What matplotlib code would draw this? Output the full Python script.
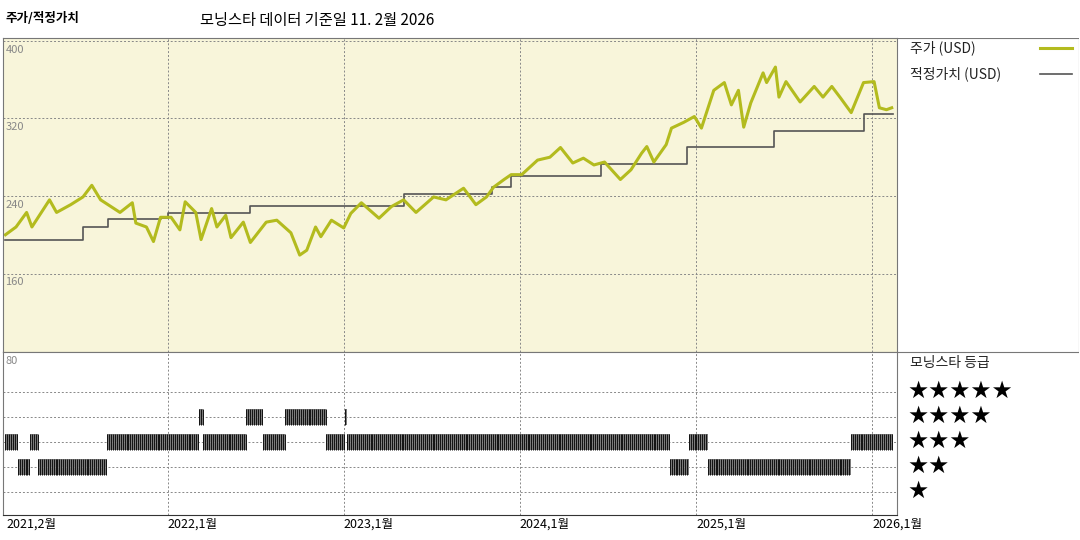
import numpy as np
import matplotlib
matplotlib.use("Agg")
import matplotlib.pyplot as plt

plt.rcParams['font.family'] = ['Noto Sans CJK KR', 'DejaVu Sans']

# price (USD), dates as decimal years
price_t = [2021.08, 2021.14, 2021.20, 2021.23, 2021.33, 2021.37, 2021.45, 2021.52, 2021.57, 2021.62,
           2021.73, 2021.80, 2021.82, 2021.88, 2021.92, 2021.96, 2022.02, 2022.07, 2022.10, 2022.16,
           2022.19, 2022.25, 2022.28, 2022.33, 2022.36, 2022.43, 2022.47, 2022.56, 2022.62, 2022.70,
           2022.75, 2022.79, 2022.84, 2022.87, 2022.93, 2023.00, 2023.04, 2023.10, 2023.20, 2023.27,
           2023.34, 2023.41, 2023.51, 2023.58, 2023.68, 2023.75, 2023.81, 2023.85, 2023.91, 2023.95,
           2024.01, 2024.04, 2024.10, 2024.17, 2024.23, 2024.30, 2024.36, 2024.42, 2024.48, 2024.52,
           2024.57, 2024.63, 2024.69, 2024.72, 2024.76, 2024.83, 2024.86, 2024.93, 2024.99, 2025.03,
           2025.10, 2025.16, 2025.20, 2025.24, 2025.27, 2025.31, 2025.38, 2025.40, 2025.45, 2025.47,
           2025.51, 2025.59, 2025.67, 2025.72, 2025.77, 2025.82, 2025.88, 2025.95, 2026.01, 2026.04,
           2026.08, 2026.11]
price_v = [200, 208, 223, 208, 236, 223, 231, 239, 251, 236,
           223, 233, 212, 208, 193, 218, 218, 205, 234, 223,
           195, 227, 208, 220, 197, 213, 192, 213, 215, 202,
           179, 184, 208, 198, 215, 207, 222, 233, 217, 229,
           236, 223, 239, 236, 248, 231, 239, 249, 257, 262,
           262, 267, 277, 280, 290, 274, 279, 272, 275, 267,
           257, 267, 284, 291, 275, 293, 310, 316, 322, 310,
           349, 357, 334, 349, 311, 336, 367, 357, 373, 342,
           358, 337, 353, 342, 353, 341, 326, 357, 358, 331,
           329, 331]

# fair value steps
fair_t = [2021.08, 2021.52, 2021.66, 2021.96, 2022.00, 2022.47, 2023.34, 2023.84, 2023.95,
          2024.46, 2024.95, 2025.44, 2025.95, 2026.12]
fair_v = [195, 208, 216, 217, 222, 230, 242, 249, 261, 273, 291, 307, 325, 325]

# star rating periods
rating_start = [2021.08, 2021.15, 2021.22, 2021.265, 2021.657, 2022.18, 2022.203, 2022.447, 2022.543,
                2022.668, 2022.901, 2023.009, 2023.02, 2024.85, 2024.958, 2025.066, 2025.878]
rating_end = [2021.15, 2021.22, 2021.265, 2021.657, 2022.18, 2022.203, 2022.447, 2022.543, 2022.668,
              2022.901, 2023.009, 2023.02, 2024.85, 2024.958, 2025.066, 2025.878, 2026.117]
rating_level = [3, 2, 3, 2, 3, 4, 3, 4, 3, 4, 3, 4, 3, 2, 3, 2, 3]

x_ticks = [2021.083, 2022.0, 2023.0, 2024.0, 2025.0, 2026.0]
x_labels = ['2021,2월', '2022,1월', '2023,1월', '2024,1월', '2025,1월', '2026,1월']
y_ticks = [160, 240, 320, 400]

W, H = 1080, 540
fig = plt.figure(figsize=(10.8, 5.4), dpi=100)


def box(x0, y0, x1, y1):
    return [x0 / W, 1 - y1 / H, (x1 - x0) / W, (y1 - y0) / H]


xlim = (2021.066, 2026.14)
grid_kw = dict(color='#888888', linestyle=(0, (2, 2)), linewidth=0.7)

ax = fig.add_axes(box(3, 38, 897, 352))
ax.set_facecolor('#f8f5da')
ax.set_xlim(*xlim)
ax.set_ylim(79, 403)
for v in y_ticks:
    ax.axhline(v, **grid_kw)
    ax.text(2021.08, v - 4, str(v), color='#888888', fontsize=8, va='top', ha='left')
for t in x_ticks[1:]:
    ax.axvline(t, **grid_kw)
ax.step(fair_t, fair_v, where='post', color='#555555', linewidth=1.2)
ax.plot(price_t, price_v, color='#b3bb1e', linewidth=2.2)
ax.set_xticks([])
ax.set_yticks([])
for s in ax.spines.values():
    s.set_color('#777777')
    s.set_linewidth(0.8)

ax2 = fig.add_axes(box(3, 352, 897, 515))
ax2.set_xlim(*xlim)
ax2.set_ylim(0.08, 6.6)
for lv in range(1, 6):
    ax2.axhline(lv, **grid_kw)
for t in x_ticks[1:]:
    ax2.axvline(t, **grid_kw)
ax2.text(2021.08, 6.45, '80', color='#888888', fontsize=8, va='top', ha='left')
for s0, s1, lv in zip(rating_start, rating_end, rating_level):
    ax2.fill_between([s0, s1], lv - 0.32, lv + 0.32, color='#7a7a7a', linewidth=0)
    ticks = np.arange(s0, s1, 0.011)
    ax2.vlines(ticks, lv - 0.32, lv + 0.32, color='#111111', linewidth=0.7)
ax2.set_xticks(x_ticks)
ax2.set_xticklabels(x_labels, fontsize=9, ha='left')
ax2.tick_params(axis='x', length=0, pad=2)
ax2.set_yticks([])
for s in ax2.spines.values():
    s.set_color('#777777')
    s.set_linewidth(0.8)
ax2.spines['bottom'].set_color('#333333')

# right panel
side = fig.add_axes(box(897, 38, 1079, 515))
side.set_xlim(897, 1079)
side.set_ylim(515, 38)
side.axis('off')
side.plot([897, 1079], [38, 38], color='#777777', linewidth=0.8)
side.plot([897, 1079], [352, 352], color='#777777', linewidth=0.8)
side.plot([1079, 1079], [38, 352], color='#777777', linewidth=0.8)
side.text(910, 48, '주가 (USD)', fontsize=10, va='center', color='#222222')
side.plot([1040, 1072], [48, 48], color='#b3bb1e', linewidth=2.2)
side.text(910, 74, '적정가치 (USD)', fontsize=10, va='center', color='#222222')
side.plot([1040, 1072], [74, 74], color='#555555', linewidth=1.2)
side.text(910, 363, '모닝스타 등급', fontsize=10, va='center', color='#222222')
for lv in range(5, 0, -1):
    side.text(907, 391 + (5 - lv) * 25, '★' * lv, fontsize=17, va='center',
              family='DejaVu Sans', color='black')

fig.text(5 / W, 1 - 18 / H, '주가/적정가치', fontsize=9, fontweight='bold', va='center')
fig.text(200 / W, 1 - 20 / H, '모닝스타 데이터 기준일 11. 2월 2026', fontsize=11, va='center')

fig.savefig('out.png', dpi=100)
